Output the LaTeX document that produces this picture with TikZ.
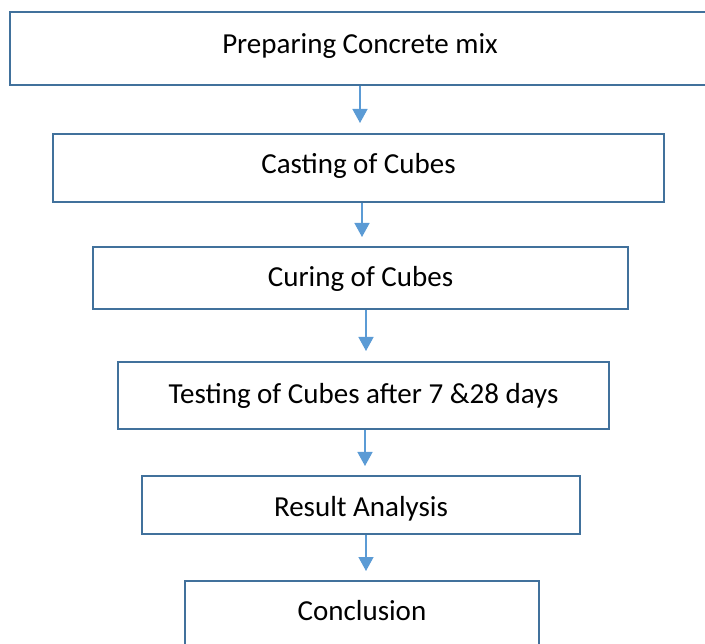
\documentclass[tikz,border=0pt]{standalone}
\usepackage{fontspec}
\setmainfont{Carlito}
\usetikzlibrary{arrows.meta}
\definecolor{boxblue}{HTML}{41719C}
\definecolor{arrblue}{HTML}{5B9BD5}
\newcommand{\lbl}[2]{\raisebox{#1}[20pt][7pt]{#2}}
\tikzset{
  stepbox/.style={draw=boxblue, line width=2pt, inner sep=0pt, font=\fontsize{29}{34}\selectfont, text=black},
  arr/.style={draw=arrblue, line width=1.4pt, -{Triangle[width=15pt,length=14pt]}, arrblue}
}
\begin{document}
\begin{tikzpicture}[x=1pt,y=-1pt]
\useasboundingbox (0,0) rectangle (705,644);
\node[stepbox, minimum width=700pt, minimum height=73pt] (b1) at (360,48.5) {\lbl{1pt}{Preparing Concrete mix}};
\node[stepbox, minimum width=611pt, minimum height=68pt] (b2) at (358.5,168) {\lbl{1pt}{Casting of Cubes}};
\node[stepbox, minimum width=535pt, minimum height=62pt] (b3) at (360.5,278) {\lbl{-2pt}{Curing of Cubes}};
\node[stepbox, minimum width=491pt, minimum height=67pt] (b4) at (363.5,395.5) {\lbl{-2pt}{Testing of Cubes after 7 \&28 days}};
\node[stepbox, minimum width=438pt, minimum height=58pt] (b5) at (361,505) {\lbl{-5pt}{Result Analysis}};
\node[stepbox, minimum width=354pt, minimum height=70pt] (b6) at (362,616) {\lbl{2pt}{Conclusion}};
\coordinate (t1) at (360,123);
\coordinate (t2) at (362,237);
\coordinate (t3) at (366,351);
\coordinate (t4) at (365,466);
\coordinate (t5) at (366,571);
\draw[arr] (b1.south -| t1) -- (t1);
\draw[arr] (b2.south -| t2) -- (t2);
\draw[arr] (b3.south -| t3) -- (t3);
\draw[arr] (b4.south -| t4) -- (t4);
\draw[arr] (b5.south -| t5) -- (t5);
\end{tikzpicture}
\end{document}
